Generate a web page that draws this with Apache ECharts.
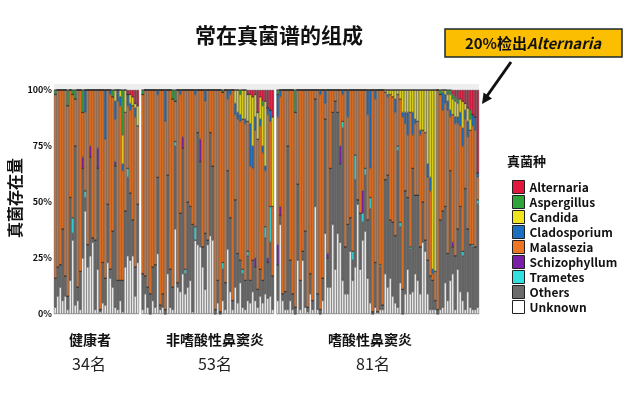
<!DOCTYPE html>
<html>
<head>
<meta charset="utf-8">
<script src="https://cdn.jsdelivr.net/npm/echarts@6/dist/echarts.min.js"></script>
<style>
  html, body { margin: 0; background: #fff; }
  #chart { width: 624px; height: 400px; }
</style>
</head>
<body>
<div id="chart"></div>
<script>
"use strict";

/* ── 分组 ── */
const groupNames  = ["健康者", "非嗜酸性鼻窦炎", "嗜酸性鼻窦炎"];
const groupCounts = ["34名", "53名", "81名"];
const groupSizes  = [34, 53, 81];

/* ── 真菌种（自下而上堆叠） ── */
const species = ["Unknown", "Others", "Trametes", "Schizophyllum", "Malassezia",
                 "Cladosporium", "Candida", "Aspergillus", "Alternaria"];
const colors  = ["#FFFFFF", "#6B6B6B", "#33E0E0", "#7B1FA8", "#EE7623",
                 "#1C6FC2", "#F1E41C", "#2EA43A", "#E3173E"];
const yTicks  = [0, 25, 50, 75, 100];

/* 每个样本的百分比（健康者 34 / 非嗜酸性 53 / 嗜酸性 81） */
const unknown = [
  3,8,12,6,8,2,15,33,4,6, 2,25,46,21,26,32,2,20,1,5, 4,23,16,12,3,2,6,1,21,26, 24,26,8,23,
  2,9,3,0,6,3,27,2,3,0, 18,3,2,38,12,10,18,9,12,15, 1,33,31,30,21,11,31,35,33,0, 5,0,6,2,29,10,2,12,5,14, 3,2,6,5,10,6,3,8,5,9, 7,8,2,
  6,40,6,2,2,6,2,0,24,2, 24,3,1,9,2,48,2,0,6,36, 12,12,40,20,36,32,15,9,9,28, 15,21,49,20,33,37,16,5,0,3,
  1,2,2,18,12,16,8,5,3,14, 0,9,20,9,10,18,15,9,32,28, 9,2,2,2,0,2,3,14,6,15, 18,2,20,10,6,2,10,3,2,2, 3
];
const others = [
  13,13,10,32,9,6,37,3,71,6, 17,40,6,10,44,2,31,45,1,18, 12,26,4,25,63,13,9,14,25,35, 30,16,13,26,
  16,8,9,9,15,19,34,2,6,2, 44,17,10,37,2,35,56,9,38,33, 39,0,50,38,9,25,2,46,33,2, 10,1,14,12,35,33,4,39,22,10, 15,13,20,10,14,15,8,12,10,25, 16,24,15,
  16,4,3,8,73,18,7,3,34,13, 4,34,2,9,4,48,7,2,10,51, 13,53,50,75,54,35,68,21,31,15, 9,39,2,25,8,25,26,42,1,20,
  0,19,2,42,50,26,33,30,70,25, 11,46,32,20,55,35,38,21,18,5, 15,15,13,4,2,40,43,34,21,49, 12,24,18,38,20,54,28,28,28,28, 46
];
const trametes = [
  0,0,0,0,0,0,0,7,0,0, 0,0,3,0,0,0,0,0,0,0, 0,0,0,0,0,0,0,0,0,4, 0,0,0,0,
  0,0,0,0,0,0,0,0,0,0, 0,0,0,2,0,0,0,2,0,0, 0,6,0,0,0,0,0,0,0,0, 0,0,3,0,0,0,0,0,0,0, 2,0,2,0,0,0,0,0,0,5, 0,16,0,
  0,0,0,0,0,0,0,0,0,0, 0,0,0,0,0,0,0,0,0,0, 0,0,0,0,0,0,3,0,0,0, 4,11,0,0,4,3,0,5,0,0,
  0,1,0,0,0,0,0,0,2,2, 0,0,0,1,0,0,0,0,0,0, 0,0,0,0,0,0,0,0,0,0, 0,0,0,0,2,0,0,0,1,0, 2
];
const schizophyllum = [
  0,0,0,0,0,0,0,0,0,0, 0,5,0,0,5,0,0,9,0,0, 0,0,0,0,2,0,0,0,0,0, 0,0,0,0,
  0,0,0,0,0,0,0,0,0,0, 0,0,0,0,0,0,5,0,0,0, 0,0,0,10,0,0,0,0,0,0, 0,0,0,0,0,0,0,0,0,0, 0,0,0,0,0,4,0,0,0,0, 2,0,0,
  9,4,0,0,0,0,0,0,0,0, 0,0,0,0,0,0,0,0,0,0, 2,0,0,0,0,8,0,0,0,0, 0,0,0,0,10,0,0,0,0,0,
  0,0,0,0,0,0,0,0,0,0, 0,0,0,0,0,0,0,0,0,0, 0,0,0,0,0,0,0,0,0,0, 2,0,0,0,0,0,0,0,0,0, 0
];
const malassezia = [
  82,79,78,62,83,85,48,55,21,88, 81,20,35,69,25,66,67,26,98,77, 62,51,78,60,19,80,78,49,44,28, 37,51,67,35,
  80,83,88,91,79,78,37,96,91,84, 38,80,84,18,86,53,21,80,50,52, 60,59,19,22,70,59,67,19,34,98, 85,99,76,86,32,55,94,38,60,62, 67,70,58,51,41,57,67,64,57,25, 64,38,31,
  57,49,91,90,25,76,91,87,42,85, 72,63,97,82,94,4,91,96,84,7, 73,35,10,5,10,25,12,70,48,57, 72,29,49,55,45,35,47,13,99,73,
  99,78,96,39,35,56,56,55,23,55, 77,30,28,60,15,32,33,50,32,48, 37,38,3,13,98,56,45,46,64,24, 57,59,47,36,47,31,41,51,53,52, 10
];
const cladosporium = [
  0,0,0,0,0,0,0,0,0,0, 0,0,10,0,0,0,0,0,0,0, 22,0,2,0,8,5,4,3,0,5, 3,0,4,0,
  0,0,0,0,0,0,2,0,0,14, 0,0,0,0,0,2,0,0,0,0, 0,2,0,0,0,5,0,0,0,0, 0,0,0,0,4,2,0,5,3,3, 0,2,0,19,10,6,0,3,3,2, 3,5,0,
  10,3,0,0,0,0,0,0,0,0, 0,0,0,0,0,0,0,2,0,6, 0,0,0,0,0,0,2,0,12,0, 0,0,0,0,0,0,11,35,0,4,
  0,0,0,0,1,0,0,6,0,0, 2,5,10,0,10,2,0,2,0,0, 6,6,2,0,0,0,8,4,4,3, 0,3,3,6,8,4,7,0,5,6, 2
];
const candida = [
  0,0,0,0,0,0,0,0,0,0, 0,0,0,0,0,0,0,0,0,0, 0,0,0,0,5,0,3,13,10,0, 4,4,2,9,
  0,0,0,0,0,0,0,0,0,0, 0,0,0,0,0,0,0,0,0,0, 0,0,0,0,0,0,0,0,0,0, 0,0,0,0,0,0,0,6,10,9, 13,13,12,13,22,10,12,10,18,29, 0,0,40,
  0,0,0,0,0,0,0,0,0,0, 0,0,0,0,0,0,0,0,0,0, 0,0,0,0,0,0,0,0,0,0, 0,0,0,0,0,0,0,0,0,0,
  0,0,0,1,2,2,3,4,2,4, 10,10,10,10,10,13,14,18,18,19, 33,39,80,81,0,0,1,2,3,7, 7,7,6,6,12,3,6,5,0,0, 0
];
const aspergillus = [
  2,0,0,0,0,7,0,2,4,0, 0,10,0,0,0,0,0,0,0,0, 0,0,0,3,0,0,0,20,0,0, 0,0,0,0,
  2,0,0,0,0,0,0,0,0,0, 0,0,4,5,0,0,0,0,0,0, 0,0,0,0,0,0,0,0,0,0, 0,0,1,0,0,0,0,0,0,2, 0,0,0,0,0,0,0,0,2,0, 0,0,0,
  2,0,0,0,0,0,0,10,0,0, 0,0,0,0,0,0,0,0,0,0, 0,0,0,0,0,0,0,0,0,0, 0,0,0,0,0,0,0,0,0,0,
  0,0,0,0,0,0,0,0,0,0, 0,0,0,0,0,0,0,0,0,0, 0,0,0,0,0,2,0,0,2,2, 2,2,2,0,0,0,0,4,0,0, 0
];
const alternaria = [
  0,0,0,0,0,0,0,0,0,0, 0,0,0,0,0,0,0,0,0,0, 0,0,0,0,0,0,0,0,0,2, 2,3,6,7,
  0,0,0,0,0,0,0,0,0,0, 0,0,0,0,0,0,0,0,0,0, 0,0,0,0,0,0,0,0,0,0, 0,0,0,0,0,0,0,0,0,0, 0,0,2,2,3,2,10,3,5,5, 8,9,12,
  0,0,0,0,0,0,0,0,0,0, 0,0,0,0,0,0,0,0,0,0, 0,0,0,0,0,0,0,0,0,0, 0,0,0,0,0,0,0,0,0,0,
  0,0,0,0,0,0,0,0,0,0, 0,0,0,0,0,0,0,0,0,0, 0,0,0,0,0,0,0,0,0,0, 2,3,4,4,5,6,8,9,11,12, 37
];
const values = [unknown, others, trametes, schizophyllum, malassezia,
                cladosporium, candida, aspergillus, alternaria];

/* 组间插入空位 */
function withGaps(arr, gapVal) {
  const out = [];
  let k = 0;
  groupSizes.forEach((n, g) => {
    if (g > 0) out.push(gapVal);
    out.push(...arr.slice(k, k + n));
    k += n;
  });
  return out;
}

const sampleIds = [];
groupSizes.forEach((n, g) => { for (let i = 1; i <= n; i++) sampleIds.push("G" + (g + 1) + "-" + i); });
const categories = withGaps(sampleIds, "");

const chart = echarts.init(document.getElementById("chart"));
const FONT = "'Noto Sans CJK SC', 'Noto Sans', sans-serif";

chart.setOption({
  backgroundColor: "#fff",
  animation: false,
  textStyle: { fontFamily: FONT },
  title: {
    text: "常在真菌谱的组成",
    left: 274, top: 20, textAlign: "center",
    textStyle: { fontSize: 21, fontWeight: "bold", color: "#111", fontFamily: FONT }
  },
  legend: {
    data: species.slice().reverse(),
    orient: "vertical", left: 507, top: 175,
    icon: "rect", itemWidth: 12, itemHeight: 13, itemGap: 1,
    itemStyle: { borderColor: "#222", borderWidth: 1 },
    textStyle: { fontSize: 12, fontWeight: "bold", color: "#111", fontFamily: FONT },
    selectedMode: false
  },
  grid: { left: 54, right: 145, top: 90, bottom: 86, containLabel: false, outerBoundsMode: "none" },
  xAxis: {
    type: "category", data: categories,
    axisLine: { show: false }, axisTick: { show: false }, axisLabel: { show: false }
  },
  yAxis: {
    type: "value", min: yTicks[0], max: yTicks[yTicks.length - 1], interval: 25,
    axisLine: { show: false }, axisTick: { show: false }, splitLine: { show: false },
    axisLabel: { formatter: "{value}%", fontSize: 9, fontWeight: "bold", color: "#111", margin: 2 }
  },
  series: species.map((name, i) => ({
    name, type: "bar", stack: "all",
    barCategoryGap: "0%",
    data: withGaps(values[i], null),
    itemStyle: { color: colors[i], borderColor: "#333", borderWidth: 0.5 }
  })),
  graphic: [
    { type: "rect", z: -1, shape: { x: 54, y: 84, width: 425, height: 6 }, style: { fill: "#eeeeee" } },
    // y 轴标题
    { type: "text", x: 15, y: 198, rotation: Math.PI / 2,
      style: { text: "真菌存在量", fontSize: 16, fontWeight: "bold", fill: "#111", fontFamily: FONT,
               textAlign: "center", textVerticalAlign: "middle" } },
    { type: "text", left: 507, top: 155,
      style: { text: "真菌种", fontSize: 13, fontWeight: "bold", fill: "#111", fontFamily: FONT } },
    // 分组标签
    ...groupNames.map((t, g) => ({
      type: "text", x: [90, 215, 370][g], y: 340,
      style: { text: t, fontSize: 14, fontWeight: "bold", fill: "#111", fontFamily: FONT,
               textAlign: "center", textVerticalAlign: "middle" }
    })),
    ...groupCounts.map((t, g) => ({
      type: "text", x: [89, 215, 373][g], y: 364,
      style: { text: t, fontSize: 16, fill: "#222", fontFamily: FONT,
               textAlign: "center", textVerticalAlign: "middle" }
    })),
    // 标注框
    { type: "rect", shape: { x: 445, y: 29, width: 177, height: 28 },
      style: { fill: "#FBBE00", stroke: "#1e2a2a", lineWidth: 1.5 } },
    { type: "text", x: 533, y: 43,
      style: {
        text: "{a|20%检出}{b|Alternaria}",
        textAlign: "center", textVerticalAlign: "middle",
        rich: {
          a: { fontSize: 15, fontWeight: "bold", fill: "#111", fontFamily: FONT },
          b: { fontSize: 15, fontWeight: "bold", fontStyle: "italic", fill: "#111", fontFamily: FONT }
        }
      } },
    // 箭头
    { type: "line", shape: { x1: 511, y1: 62, x2: 487, y2: 96 },
      style: { stroke: "#111", lineWidth: 3 } },
    { type: "polygon", shape: { points: [[482, 104], [492, 98.6], [483.6, 92.5]] },
      style: { fill: "#111" } }
  ]
});
</script>
</body>
</html>
